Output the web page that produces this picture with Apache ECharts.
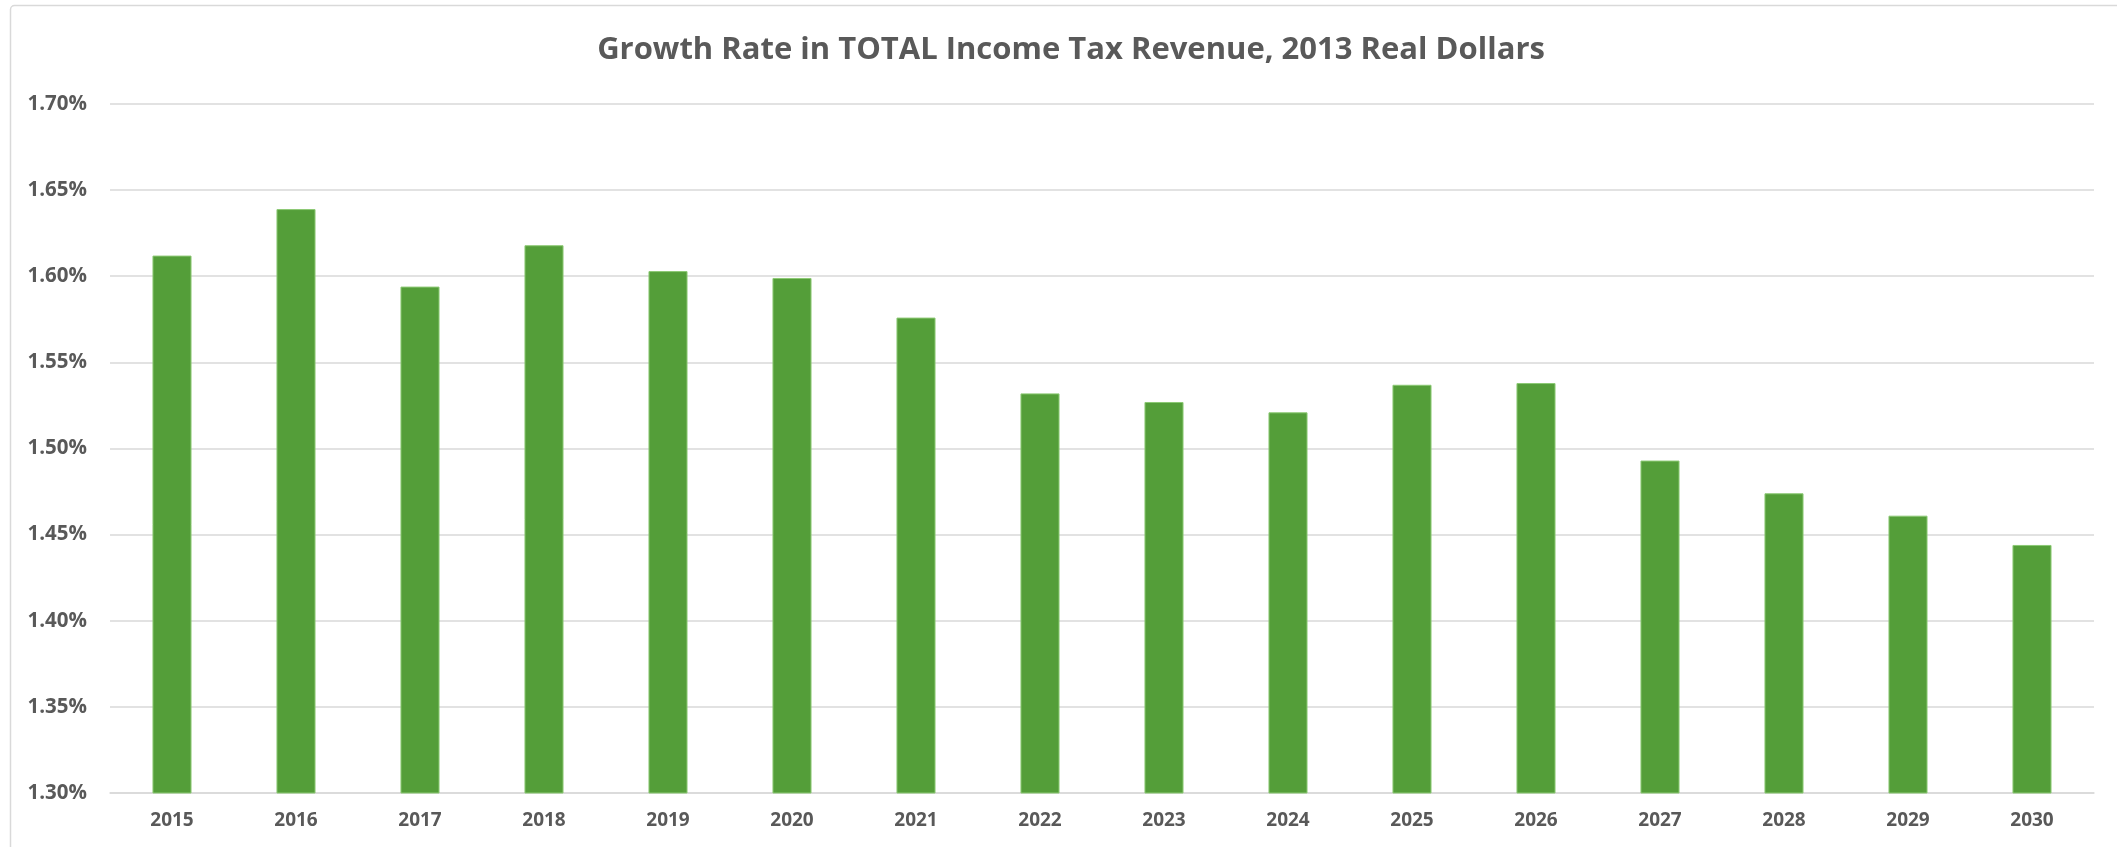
<!DOCTYPE html>
<html>
<head>
<meta charset="utf-8">
<title>Growth Rate in TOTAL Income Tax Revenue</title>
<script src="https://cdn.jsdelivr.net/npm/echarts@6/dist/echarts.min.js"></script>
<style>
  html, body { margin: 0; padding: 0; background: #ffffff; }
  #chart { width: 2117px; height: 847px; }
</style>
</head>
<body>
<div id="chart"></div>
<script>
// Fiscal years shown on the category axis
const years = ['2015', '2016', '2017', '2018', '2019', '2020', '2021', '2022',
               '2023', '2024', '2025', '2026', '2027', '2028', '2029', '2030'];

// Annual growth rate of total income tax revenue (percent, 2013 real dollars)
const growthRate = [1.612, 1.639, 1.594, 1.618, 1.603, 1.599, 1.576, 1.532,
                    1.527, 1.521, 1.537, 1.538, 1.493, 1.474, 1.461, 1.444];

// Value axis range and step (percent)
const yMin = 1.30;
const yMax = 1.70;
const yStep = 0.05;

const titleText = 'Growth Rate in TOTAL Income Tax Revenue, 2013 Real Dollars';

const textColor = '#595959';
const gridColor = '#d9d9d9';
const font = '"Open Sans", "Noto Sans", sans-serif';

const chart = echarts.init(document.getElementById('chart'), null, { renderer: 'canvas' });

chart.setOption({
  backgroundColor: '#ffffff',
  animation: false,
  title: {
    text: titleText,
    left: 1066,
    top: 30,
    textAlign: 'center',
    textStyle: {
      color: textColor,
      fontFamily: font,
      fontWeight: 'bold',
      fontSize: 31
    }
  },
  graphic: [{
    type: 'rect',
    silent: true,
    z: -1,
    shape: { x: 10.5, y: 5.5, width: 2300, height: 1000, r: 4 },
    style: { fill: 'none', stroke: gridColor, lineWidth: 1.5 }
  }],
  grid: {
    left: 110,
    right: 23,
    top: 104,
    bottom: 54,
    containLabel: false
  },
  xAxis: {
    type: 'category',
    data: years,
    axisTick: { show: false },
    axisLine: { show: true, lineStyle: { color: gridColor, width: 1.5 } },
    axisLabel: {
      color: textColor,
      fontFamily: font,
      fontWeight: 'bold',
      fontSize: 19,
      margin: 18
    }
  },
  yAxis: {
    type: 'value',
    min: yMin,
    max: yMax,
    interval: yStep,
    axisLine: { show: false },
    axisTick: { show: false },
    splitLine: { lineStyle: { color: gridColor, width: 1.5 } },
    axisLabel: {
      color: textColor,
      fontFamily: font,
      fontWeight: 'bold',
      fontSize: 20.5,
      margin: 23,
      formatter: v => v.toFixed(2) + '%'
    }
  },
  series: [{
    type: 'bar',
    data: growthRate,
    barWidth: '31.5%',
    itemStyle: {
      color: '#549e39',
      borderColor: '#8cc974',
      borderWidth: 1
    }
  }]
});
</script>
</body>
</html>
